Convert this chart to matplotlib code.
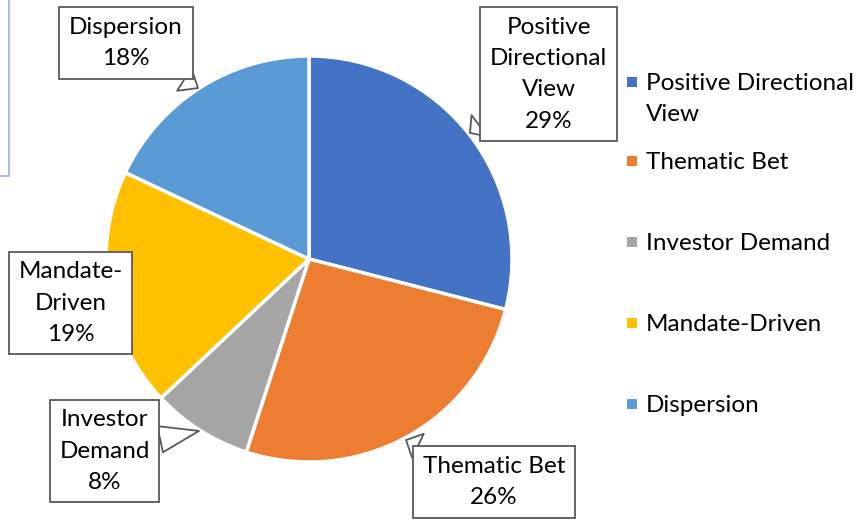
import matplotlib
matplotlib.use("Agg")
import matplotlib.pyplot as plt
from matplotlib.patches import Rectangle
from matplotlib.lines import Line2D

# data
categories = ["Positive Directional View", "Thematic Bet", "Investor Demand",
              "Mandate-Driven", "Dispersion"]
shares = [29, 26, 8, 19, 18]
box_texts = ["Positive\nDirectional\nView", "Thematic Bet", "Investor\nDemand",
             "Mandate-\nDriven", "Dispersion"]
legend_texts = ["Positive Directional\nView", "Thematic Bet", "Investor Demand",
                "Mandate-Driven", "Dispersion"]
colors = ["#4472C4", "#ED7D31", "#A5A5A5", "#FFC000", "#5B9BD5"]

# label box centres and callout tips (axes data units, radius = 1)
box_pos = [(1.18, 0.91), (0.91, -1.10), (-1.007, -0.946), (-1.175, -0.217), (-0.901, 1.064)]
tip_pos = [(0.793, 0.621), (0.478, -0.892), (-0.542, -0.847), None, (-0.547, 0.842)]
legend_y = [82, 161, 242, 323, 404]  # pixel rows of legend entries

plt.rcParams["font.family"] = ["Lato", "DejaVu Sans"]
W, H = 865, 526
fig = plt.figure(figsize=(W / 100, H / 100), dpi=100)

cx, cy, r = 309, 259, 203
ax = fig.add_axes([(cx - r) / W, (H - cy - r) / H, 2 * r / W, 2 * r / H])
ax.pie(shares, colors=colors, startangle=90, counterclock=False,
       wedgeprops=dict(edgecolor="white", linewidth=2.5), radius=1)
ax.set_xlim(-1, 1)
ax.set_ylim(-1, 1)
ax.set_aspect("equal")
ax.axis("off")

fs = 17.5
ls = 1.6
for txt, val, bp, tp in zip(box_texts, shares, box_pos, tip_pos):
    label = f"{txt}\n{val}%"
    bbox = dict(boxstyle="square,pad=0.4", fc="white", ec="#595959", lw=1.3)
    if tp is None:
        ax.text(bp[0], bp[1], label, ha="center", va="center", fontsize=fs,
                linespacing=ls, bbox=bbox, clip_on=False, zorder=5)
    else:
        ax.annotate(label, xy=tp, xytext=bp, ha="center", va="center",
                    fontsize=fs, linespacing=ls, bbox=bbox, zorder=5,
                    annotation_clip=False,
                    arrowprops=dict(arrowstyle="wedge,tail_width=1.1,shrink_factor=0.5",
                                    fc="white", ec="#595959", lw=1.3,
                                    shrinkA=0, shrinkB=0))

# legend drawn by hand to match the spacing
for lab, col, y in zip(legend_texts, colors, legend_y):
    fig.patches.append(Rectangle((627 / W, (H - y - 5) / H), 10 / W, 10 / H,
                                 transform=fig.transFigure, fc=col, ec="none"))
    fig.text(646 / W, (H - y + 9) / H, lab, ha="left", va="top", fontsize=fs,
             linespacing=ls, color="#000000")

# stray frame edge at top-left
fig.add_artist(Line2D([9 / W, 9 / W, 0], [1, (H - 176) / H, (H - 176) / H],
                      transform=fig.transFigure, color="#A9BFE8", lw=1.5))

fig.savefig("out.png", dpi=100)
